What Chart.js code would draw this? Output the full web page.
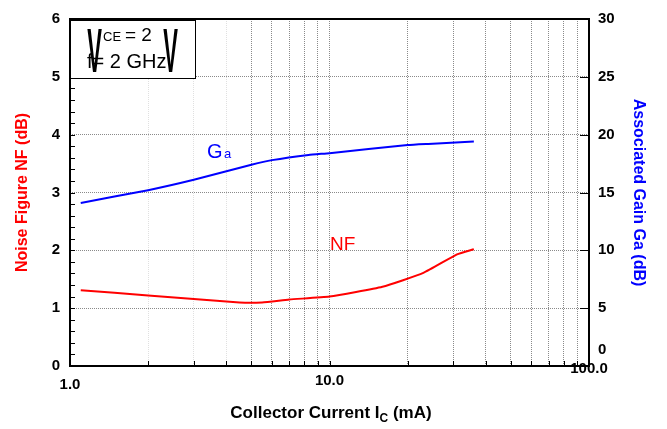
<!DOCTYPE html>
<html><head><meta charset="utf-8">
<script src="https://cdn.jsdelivr.net/npm/chart.js@4"></script>
<style>html,body{margin:0;padding:0;background:#fff}</style>
</head><body>
<canvas id="c" width="667" height="429"></canvas>
<script>
// ---- data ----
const nfCurrent = [1.1, 2, 4.5, 5.5, 7, 10, 16, 23, 31, 36];
const nfValues  = [1.31, 1.22, 1.1, 1.1, 1.15, 1.2, 1.37, 1.61, 1.93, 2.02];
const gaCurrent = [1.1, 2, 3, 5, 6, 8.3, 10, 20, 24, 36];
const gaValues  = [14.1, 15.2, 16.1, 17.4, 17.8, 18.25, 18.4, 19.1, 19.2, 19.4];
const xGridValues = [1,2,3,4,5,6,7,8,9,10,20,30,40,50,60,70,80,90,100];
const xTickValues = [1, 10, 100];
const xTickLabels = ['1.0', '10.0', '100.0'];
const yLeftTicks  = [0,1,2,3,4,5,6];
const yRightTicks = [0,5,10,15,20,25,30];

const FONT = "'Liberation Sans', Arial, sans-serif";

const deco = {
  id: 'deco',
  afterDraw(chart) {
    const {ctx, chartArea: a, scales: {x, y, y1}} = chart;
    ctx.save();
    // frame
    ctx.strokeStyle = '#000'; ctx.lineWidth = 2;
    ctx.strokeRect(a.left, a.top, a.right - a.left, a.bottom - a.top);
    // inner tick marks
    ctx.lineWidth = 1;
    ctx.beginPath();
    for (let i = 0; i <= 30; i++) {
      const py = Math.round(y.getPixelForValue(i * 0.2)) + 0.5;
      ctx.moveTo(a.left, py); ctx.lineTo(a.left + 5, py);
    }
    yRightTicks.forEach(v => {
      const py = Math.round(y1.getPixelForValue(v)) + 0.5;
      ctx.moveTo(a.right - 9, py); ctx.lineTo(a.right, py);
    });
    xGridValues.forEach(v => {
      const px = Math.round(x.getPixelForValue(v)) + 0.5;
      ctx.moveTo(px, a.bottom); ctx.lineTo(px, a.bottom - 5);
    });
    ctx.stroke();

    // x tick labels (staggered as in reference)
    ctx.fillStyle = '#000';
    ctx.font = 'bold 15px ' + FONT;
    ctx.textAlign = 'center'; ctx.textBaseline = 'middle';
    const dys = [19, 15, 3];
    xTickValues.forEach((v, i) => {
      ctx.fillText(xTickLabels[i], x.getPixelForValue(v), a.bottom + dys[i]);
    });
    // right "0" label raised
    ctx.textAlign = 'left';
    ctx.fillText(String(yRightTicks[0]), a.right + 9, y1.getPixelForValue(yRightTicks[0]) - 16);

    // x title with subscript
    ctx.textBaseline = 'alphabetic';
    const p1 = 'Collector Current I', p2 = 'C', p3 = ' (mA)';
    ctx.font = 'bold 17px ' + FONT;
    const w1 = ctx.measureText(p1).width, w3 = ctx.measureText(p3).width;
    ctx.font = 'bold 12px ' + FONT;
    const w2 = ctx.measureText(p2).width;
    let sx = 331 - (w1 + w2 + w3) / 2;
    ctx.font = 'bold 17px ' + FONT;
    ctx.fillText(p1, sx, 418); sx += w1;
    ctx.font = 'bold 12px ' + FONT;
    ctx.fillText(p2, sx, 422); sx += w2;
    ctx.font = 'bold 17px ' + FONT;
    ctx.fillText(p3, sx, 418);

    // series labels
    ctx.fillStyle = '#0000ff';
    ctx.font = '20px ' + FONT;
    ctx.fillText('G', 207, 158);
    ctx.font = '13px ' + FONT;
    ctx.fillText('a', 224, 158);
    ctx.fillStyle = '#ff0000';
    ctx.font = '19px ' + FONT;
    ctx.fillText('NF', 330, 250);

    // condition box
    const bx = a.left, by = a.top, bw = 125, bh = 59;
    ctx.fillStyle = '#fff';
    ctx.fillRect(bx + 1, by + 1, bw, bh);
    ctx.strokeStyle = '#000'; ctx.lineWidth = 1;
    ctx.strokeRect(bx + 0.5, by + 0.5, bw, bh);
    ctx.lineWidth = 2;
    ctx.beginPath(); ctx.moveTo(bx, by + 1); ctx.lineTo(bx + bw, by + 1); ctx.stroke();
    ctx.fillStyle = '#000';
    ctx.textAlign = 'center';
    ctx.font = 'bold 22px ' + FONT;
    [94.5, 170.5].forEach(cx => {
      ctx.save(); ctx.translate(cx, 72); ctx.scale(1, 2.85);
      ctx.fillText('V', 0, 0); ctx.restore();
    });
    ctx.textAlign = 'left';
    ctx.font = '13px ' + FONT;
    ctx.fillText('CE', 103, 41);
    ctx.font = '19px ' + FONT;
    ctx.fillText('= 2', 125, 41);
    ctx.font = '20px ' + FONT;
    ctx.fillText('f= 2 GHz', 87, 68);
    ctx.restore();
  }
};

new Chart(document.getElementById('c'), {
  type: 'line',
  data: {
    datasets: [
      { label: 'NF', yAxisID: 'y', data: nfCurrent.map((c, i) => ({x: c, y: nfValues[i]})),
        borderColor: '#ff0000', borderWidth: 2, pointRadius: 0, tension: 0.15, fill: false },
      { label: 'Ga', yAxisID: 'y1', data: gaCurrent.map((c, i) => ({x: c, y: gaValues[i]})),
        borderColor: '#0000ff', borderWidth: 2, pointRadius: 0, tension: 0.15, fill: false }
    ]
  },
  options: {
    responsive: false, animation: false, devicePixelRatio: 1,
    layout: { padding: { top: 19, left: 0, right: 0, bottom: 0 } },
    plugins: { legend: { display: false }, tooltip: { enabled: false } },
    scales: {
      x: {
        type: 'logarithmic', min: 1, max: 100, position: 'bottom',
        afterBuildTicks: s => { s.ticks = xGridValues.map(v => ({value: v})); },
        afterFit: s => { s.height = 63; },
        ticks: { display: false, autoSkip: false },
        grid: { drawTicks: false, lineWidth: 1,
          color: c => ([2,3,4].includes(c.tick && c.tick.value) ? 'rgba(0,0,0,0.12)' : '#8a8a8a') },
        border: { display: false, dash: [1, 1] }
      },
      y: {
        position: 'left', min: 0, max: 6,
        afterBuildTicks: s => { s.ticks = yLeftTicks.map(v => ({value: v})); },
        afterFit: s => { s.width = 70; },
        ticks: { font: { family: FONT, size: 15, weight: 'bold' }, color: '#000', padding: 10 },
        grid: { drawTicks: false, color: '#8a8a8a', lineWidth: 1 },
        border: { display: false, dash: [1, 1] },
        title: { display: true, text: 'Noise Figure NF (dB)', color: '#ff0000',
          font: { family: FONT, size: 16, weight: 'bold' }, padding: { top: 13, bottom: 0 } }
      },
      y1: {
        position: 'right', min: 0, max: 30,
        afterBuildTicks: s => { s.ticks = yRightTicks.map(v => ({value: v})); },
        afterFit: s => { s.width = 78; },
        ticks: { font: { family: FONT, size: 15, weight: 'bold' }, color: '#000', padding: 9,
          callback: v => (v === yRightTicks[0] ? '' : String(v)) },
        grid: { display: false, drawTicks: false },
        border: { display: false },
        title: { display: true, text: 'Associated Gain Ga (dB)', color: '#0000ff',
          font: { family: FONT, size: 16, weight: 'bold' }, padding: { top: 19, bottom: 0 } }
      }
    }
  },
  plugins: [deco]
});
</script>
</body></html>
